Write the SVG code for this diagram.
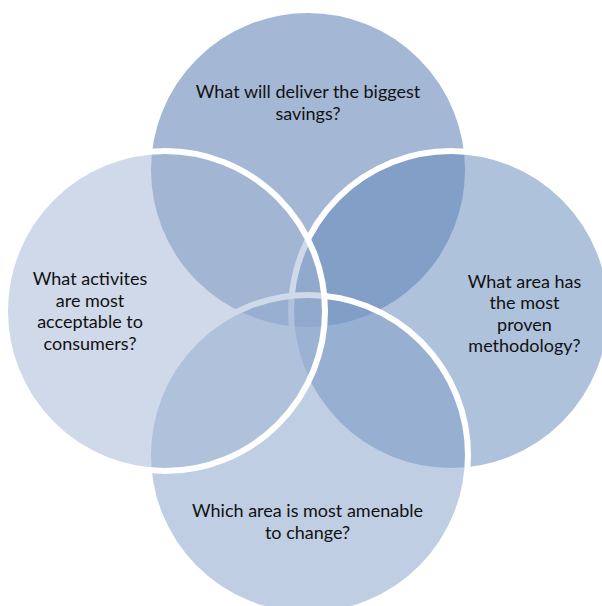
<svg xmlns="http://www.w3.org/2000/svg" width="602" height="606" viewBox="0 0 602 606">
<style>
.c{fill-opacity:0.5;stroke:#ffffff;stroke-width:6}
.t{font-family:Lato,"Liberation Sans",sans-serif;font-size:18px;text-anchor:middle;fill:#111111}
</style>
<rect width="602" height="606" fill="#ffffff"/>
<g id="top">
<circle class="c" cx="308" cy="170" r="160" fill="#4971AB"/>
<text class="t" x="308" y="98">What will deliver the biggest</text>
<text class="t" x="308" y="119.5">savings?</text>
</g>
<g id="right">
<circle class="c" cx="451" cy="311" r="160" fill="#5F85B9"/>
<text class="t" x="524.5" y="287.5">What area has</text>
<text class="t" x="524.5" y="309">the most</text>
<text class="t" x="524.5" y="330.5">proven</text>
<text class="t" x="524.5" y="352">methodology?</text>
</g>
<g id="bottom">
<circle class="c" cx="308" cy="455" r="160" fill="#7F9DC7"/>
<text class="t" x="307.5" y="517">Which area is most amenable</text>
<text class="t" x="307.5" y="538.5">to change?</text>
</g>
<g id="left">
<circle class="c" cx="165" cy="311" r="160" fill="#9FB3D3"/>
<text class="t" x="90" y="285">What activites</text>
<text class="t" x="90" y="306.5">are most</text>
<text class="t" x="90" y="328">acceptable to</text>
<text class="t" x="90" y="349.5">consumers?</text>
</g>
</svg>
